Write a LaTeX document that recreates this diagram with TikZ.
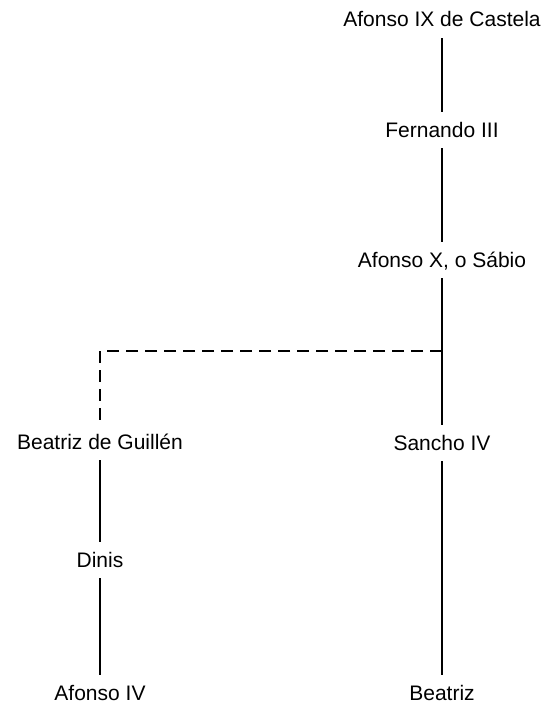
\documentclass[tikz,border=0pt]{standalone}
\usepackage{fontspec}
\setmainfont{Liberation Sans}
\usetikzlibrary{calc}

\tikzset{
  person/.style={inner xsep=2pt, inner ysep=10pt, text height=15pt, text depth=1pt,
                 font=\fontsize{21}{25}\selectfont},
  link/.style={line width=1.5pt},
  marriage/.style={line width=1.5pt, dash pattern=on 12pt off 7pt}
}

\begin{document}
\begin{tikzpicture}[x=1pt, y=-1pt]

\useasboundingbox (0,0) rectangle (546,706);

\node (afonsoix) at (442, 20) [person] {Afonso IX de Castela};
\node (fernando) at (442, 130) [person] {Fernando III};
\node (afonsox) at (442, 260) [person] {Afonso X, o Sábio};

\node (beatrizg) at (100, 442) [person] {Beatriz de Guillén};
\node (sancho) at (442, 443) [person] {Sancho IV};

\node (dinis) at (100, 560) [person] {Dinis};

\node (afonsoiv) at (100, 693) [person] {Afonso IV};
\node (beatriz) at (442, 693) [person] {Beatriz};

\coordinate (junction) at (442, 351);

\draw [link] (afonsoix.south) -- (fernando.north);
\draw [link] (fernando.south) -- (afonsox.north);
\draw [link] (afonsox.south) -- (sancho.north);
\draw [link] (sancho.south) -- (beatriz.north);
\draw [link] (beatrizg.south) -- (dinis.north);
\draw [link] (dinis.south) -- (afonsoiv.north);

\draw [marriage] (junction) -- (junction -| beatrizg) -- (beatrizg.north);

\end{tikzpicture}
\end{document}
